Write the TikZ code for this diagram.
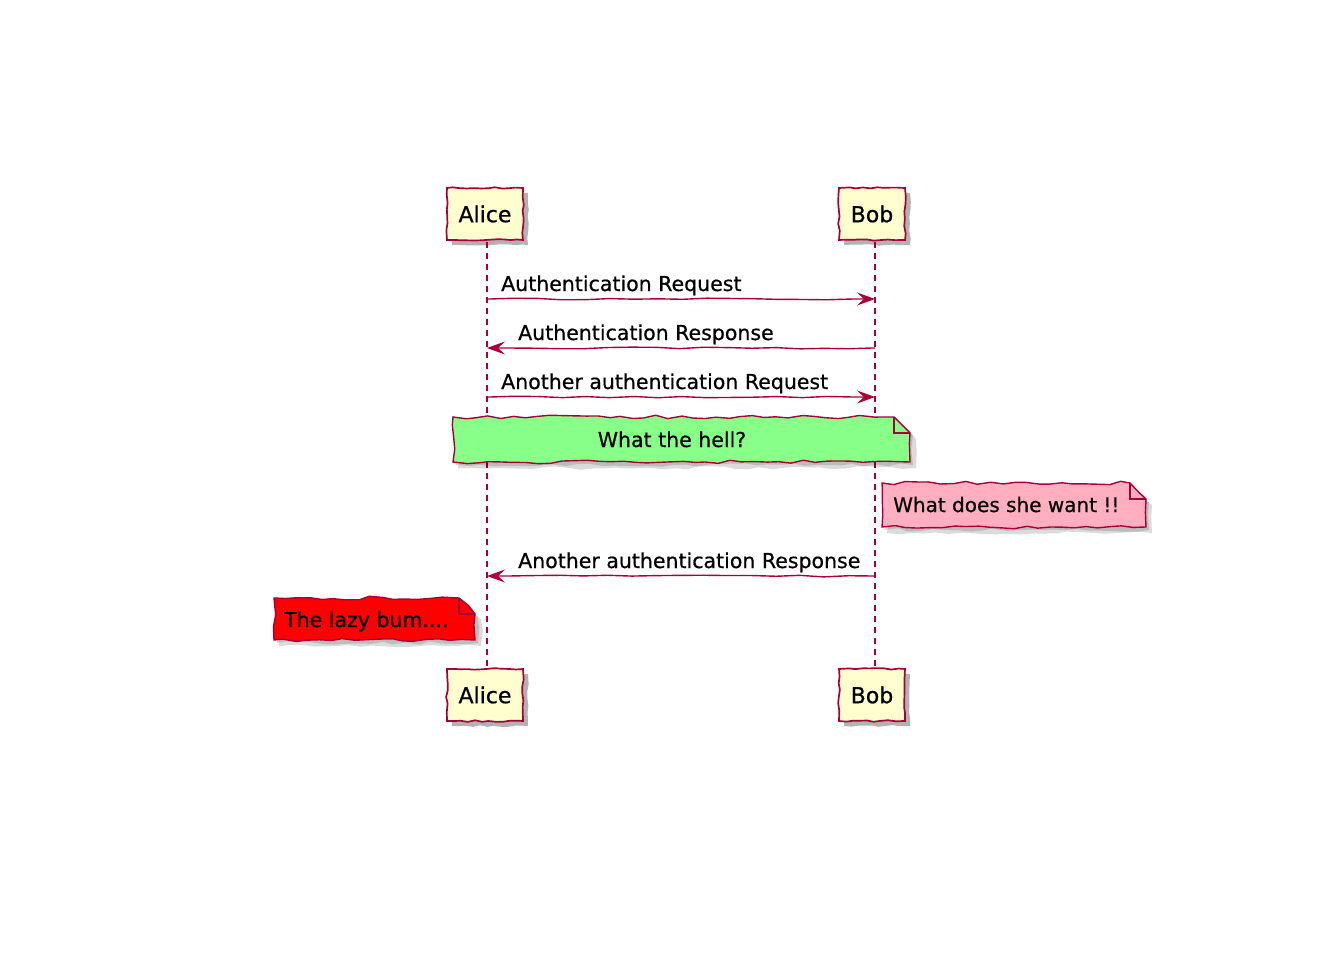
\documentclass[tikz,border=0pt]{standalone}
\usepackage{fontspec}
\setmainfont{DejaVu Sans}[FakeBold=0.6]
\usetikzlibrary{decorations.pathmorphing,arrows.meta,shadows,calc}
\definecolor{pborder}{HTML}{A80036}
\definecolor{pfill}{HTML}{FEFECE}
\definecolor{ngreen}{HTML}{88FF88}
\definecolor{npink}{HTML}{FFAFC0}
\definecolor{nred}{HTML}{FF0000}
\tikzset{
  wob/.style={decorate,decoration={random steps,segment length=7pt,amplitude=0.9pt}},
  nwob/.style={decorate,decoration={random steps,segment length=12pt,amplitude=1.8pt}},
  partbox/.style={draw=pborder,line width=1.7pt,fill=pfill,minimum height=52pt,
    inner sep=0pt,font=\fontsize{22}{26}\selectfont,wob,
    drop shadow={shadow xshift=5pt,shadow yshift=-5pt,opacity=0.3,fill=black}},
  life/.style={draw=pborder,line width=1.3pt,dash pattern=on 6pt off 5pt},
  msg/.style={draw=pborder,line width=1.4pt,
    decorate,decoration={random steps,segment length=24pt,amplitude=0.9pt,pre length=3pt,post length=22pt},
    -{Stealth[length=18pt,width=13pt,inset=7pt]}},
  lbl/.style={anchor=base west,inner sep=0pt,font=\fontsize{20.5}{24}\selectfont},
  nlbl/.style={anchor=base,inner sep=0pt,font=\fontsize{20.5}{24}\selectfont},
  noteline/.style={draw=pborder,line width=1.4pt,nwob},
  noteshadow/.style={fill=black,opacity=0.14,nwob},
}
\begin{document}
\begin{tikzpicture}[x=1pt,y=-1pt]
\pgfmathsetseed{11}
\useasboundingbox (0,0) rectangle (1344,960);
% participants
\node[partbox,minimum width=76pt] (alice) at (485,214) {Alice};
\node[partbox,minimum width=66pt] (bob) at (872,214) {Bob};
\node[partbox,minimum width=76pt] (alice2) at (485,695) {Alice};
\node[partbox,minimum width=66pt] (bob2) at (872,695) {Bob};
% lifelines
\draw[life] ([xshift=2pt,yshift=-1pt]alice.south) -- ([xshift=2pt,yshift=1pt]alice2.north);
\draw[life] ([xshift=3pt,yshift=-1pt]bob.south) -- ([xshift=3pt,yshift=1pt]bob2.north);
% message coordinates
\coordinate (a1) at (487,299); \coordinate (b1) at (875,299);
\coordinate (a2) at (487,348); \coordinate (b2) at (875,348);
\coordinate (a3) at (487,397); \coordinate (b3) at (875,397);
\coordinate (a4) at (487,576); \coordinate (b4) at (875,576);
% messages
\draw[msg] (a1) -- (b1);
\node[lbl] (m1) at (501,291) {Authentication Request};
\draw[msg] (b2) -- (a2);
\node[lbl] (m2) at (518,340) {Authentication Response};
\draw[msg] (a3) -- (b3);
\node[lbl] (m3) at (501,389) {Another authentication Request};
% note 1 (green, over both)
\fill[noteshadow] (458,423) -- (899,423) -- (916,439) -- (916,468) -- (458,468) -- cycle;
\fill[noteshadow] (456,421) -- (897,421) -- (913,436) -- (913,465) -- (456,465) -- cycle;
\filldraw[noteline,fill=ngreen] (453,417) -- (894,417) -- (910,433) -- (910,462) -- (453,462) -- cycle;
\draw[draw=pborder,line width=1.2pt] (894,417) -- (894,433) -- (910,433);
\node[nlbl] (n1) at (672,447) {What the hell?};
% note 2 (pink, right of Bob)
\fill[noteshadow] (887,489) -- (1135,489) -- (1152,505) -- (1152,533) -- (887,533) -- cycle;
\fill[noteshadow] (885,487) -- (1133,487) -- (1149,502) -- (1149,530) -- (885,530) -- cycle;
\filldraw[noteline,fill=npink] (882,483) -- (1130,483) -- (1146,499) -- (1146,527) -- (882,527) -- cycle;
\draw[draw=pborder,line width=1.2pt] (1130,483) -- (1130,499) -- (1146,499);
\node[lbl,font=\fontsize{20}{24}\selectfont] (n2) at (893,512) {What does she want !!};
% message 4
\draw[msg] (b4) -- (a4);
\node[lbl] (m4) at (518,568) {Another authentication Response};
% note 3 (red, left of Alice)
\fill[noteshadow] (279,604) -- (464,604) -- (481,620) -- (481,646) -- (279,646) -- cycle;
\fill[noteshadow] (277,602) -- (462,602) -- (478,617) -- (478,643) -- (277,643) -- cycle;
\filldraw[noteline,fill=nred] (274,598) -- (459,598) -- (475,614) -- (475,640) -- (274,640) -- cycle;
\draw[draw=pborder,line width=1.2pt] (459,598) -- (459,614) -- (475,614);
\node[lbl] (n3) at (284,627) {The lazy bum....};
\end{tikzpicture}
\end{document}
